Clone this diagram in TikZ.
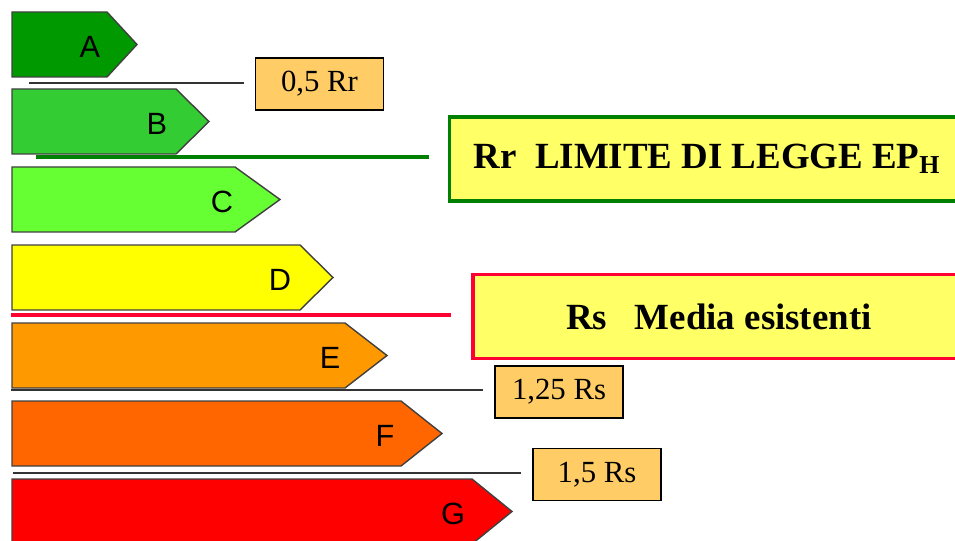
\documentclass[tikz,border=0pt]{standalone}
\usepackage{fontspec}
\setmainfont{Liberation Serif}
\newfontfamily\arialfont{Liberation Sans}
\usetikzlibrary{positioning}
\definecolor{clsA}{HTML}{009900}
\definecolor{clsB}{HTML}{33CC33}
\definecolor{clsC}{HTML}{66FF33}
\definecolor{clsD}{HTML}{FFFF00}
\definecolor{clsE}{HTML}{FF9900}
\definecolor{clsF}{HTML}{FF6600}
\definecolor{clsG}{HTML}{FF0000}
\definecolor{boxyellow}{HTML}{FFFF66}
\definecolor{boxorange}{HTML}{FFCC66}
\definecolor{limgreen}{HTML}{008000}
\definecolor{medred}{HTML}{FF0033}

\begin{document}
\begin{tikzpicture}[x=0.02cm, y=-0.02cm,
  bar/.style={draw=black!75,line width=0.8pt,line join=miter},
  barlbl/.style={font=\arialfont\fontsize{17.5}{20}\selectfont},
  valbox/.style={draw=black,line width=0.7pt,fill=boxorange,minimum width=2.56cm,minimum height=1.04cm,inner sep=0pt,font=\fontsize{17.5}{21}\selectfont},
  bigbox/.style={fill=boxyellow,minimum height=1.68cm,inner sep=0pt,font=\bfseries\fontsize{21}{25}\selectfont},
  thinline/.style={draw=black!80,line width=0.8pt},
  limline/.style={draw=limgreen,line width=2.2pt},
  medline/.style={draw=medred,line width=2.2pt}
]
\useasboundingbox (0,0) rectangle (955,540);

% Energy classes
\foreach \lab/\ytop/\rx/\tx/\lx in {A/12/107/137/90, B/89/176/209/157, C/167/235/280/222,
    D/245/300/333/280, E/323/345/387/330, F/401/401/442/385, G/479/472/512/453}{
  \draw[bar,fill=cls\lab] (12,\ytop) -- (\rx,\ytop) -- (\tx,\ytop+32.5) -- (\rx,\ytop+65) -- (12,\ytop+65) -- cycle;
  \node[barlbl] (lbl\lab) at (\lx,\ytop+34.5) {\lab};
}

% Reference boxes
\node[valbox] (v05) at (319.5,84) {0,5 Rr};
\node[bigbox,draw=limgreen,line width=2.2pt,minimum width=10.3cm] (rr) at (707,159) {Rr\ \ LIMITE DI LEGGE EP\textsubscript{H}};
\node[bigbox,draw=medred,line width=1.8pt,minimum width=9.84cm] (rs) at (719,316.5) {Rs\ \ \ Media esistenti};
\node[valbox] (v125) at (559,392) {1,25 Rs};
\node[valbox] (v15) at (597,474.5) {1,5 Rs};

% Threshold lines
\coordinate (s05) at (29,83);
\coordinate (srr) at (36,157);
\coordinate (srs) at (11,315);
\coordinate (s125) at (11,390);
\coordinate (s15) at (13,473);

\draw[thinline,shorten >=0.22cm] (s05) -- (s05 -| v05.west);
\draw[limline,shorten >=0.38cm] (srr) -- (srr -| rr.west);
\draw[medline,shorten >=0.4cm] (srs) -- (srs -| rs.west);
\draw[thinline,shorten >=0.23cm] (s125) -- (s125 -| v125.west);
\draw[thinline,shorten >=0.22cm] (s15) -- (s15 -| v15.west);
\end{tikzpicture}
\end{document}
